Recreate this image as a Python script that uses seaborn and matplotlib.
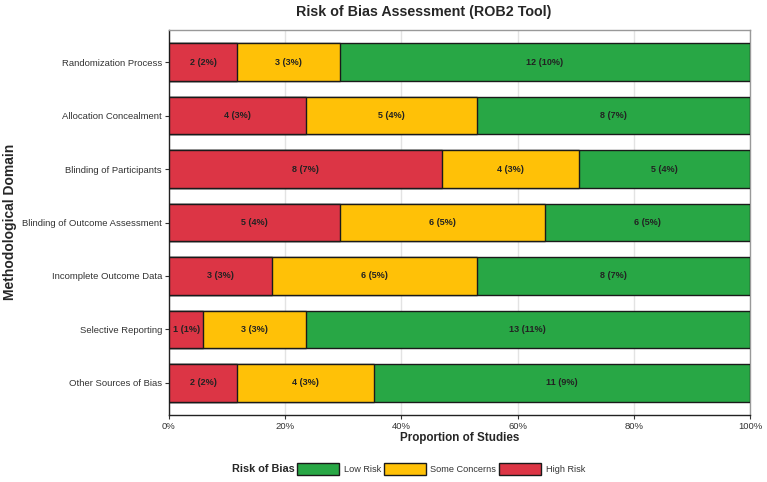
import pandas as pd
import matplotlib.pyplot as plt
import seaborn as sns
from matplotlib.patches import Patch

# Dados: número de estudos por domínio e nível de risco
dominios = ['Randomization Process', 'Allocation Concealment', 'Blinding of Participants',
            'Blinding of Outcome Assessment', 'Incomplete Outcome Data',
            'Selective Reporting', 'Other Sources of Bias']
alto = [2, 4, 8, 5, 3, 1, 2]
algumas = [3, 5, 4, 6, 6, 3, 4]
baixo = [12, 8, 5, 6, 8, 13, 11]

cores = {'Low Risk': '#28A745', 'Some Concerns': '#FFC107', 'High Risk': '#DC3545'}

df = pd.DataFrame({'dominio': dominios, 'alto': alto, 'algumas': algumas, 'baixo': baixo})
df['total'] = df['alto'] + df['algumas'] + df['baixo']
total_geral = df['total'].sum()
df['p_alto'] = df['alto'] / df['total']
df['p_algumas'] = df['algumas'] / df['total']
df['p_baixo'] = df['baixo'] / df['total']
df['cum_alto'] = df['p_alto']
df['cum_algumas'] = df['p_alto'] + df['p_algumas']
df['cum_baixo'] = df['cum_algumas'] + df['p_baixo']

sns.set_style('white')
plt.rcParams['font.family'] = ['Liberation Sans', 'DejaVu Sans']

fig = plt.figure(figsize=(7.67, 4.82), dpi=100)
ax = fig.add_axes([169 / 767, 1 - 415 / 482, (750 - 169) / 767, (415 - 30) / 482])

# Barras empilhadas: desenha os acumulados do maior para o menor
for col, nome in [('cum_baixo', 'Low Risk'), ('cum_algumas', 'Some Concerns'), ('cum_alto', 'High Risk')]:
    sns.barplot(data=df, x=col, y='dominio', order=dominios, orient='h', color=cores[nome],
                saturation=1, width=0.7, edgecolor='#1a1a1a', linewidth=1, ax=ax, zorder=3)

# Rótulos dentro de cada segmento
for i, linha in df.iterrows():
    inicio = 0
    for n, p in [(linha['alto'], linha['p_alto']), (linha['algumas'], linha['p_algumas']),
                 (linha['baixo'], linha['p_baixo'])]:
        if n > 0:
            pct = round(100 * n / total_geral)
            ax.text(inicio + p / 2, i, f'{n} ({pct}%)', ha='center', va='center',
                    fontsize=6.5, fontweight='bold', color='#222222', zorder=4)
        inicio += p

ax.set_xlim(0, 1)
ax.set_ylim(6.6, -0.6)
ax.set_xticks([0, 0.2, 0.4, 0.6, 0.8, 1.0])
ax.set_xticklabels(['0%', '20%', '40%', '60%', '80%', '100%'])
ax.grid(axis='x', color='#e3e3e3', linewidth=1, zorder=0)
ax.set_axisbelow(True)
ax.tick_params(axis='both', labelsize=6.8, colors='#333333', length=3, width=0.8,
               left=True, bottom=True, pad=2)
for lado in ['top', 'right']:
    ax.spines[lado].set_color('#999999')
    ax.spines[lado].set_linewidth(1)
for lado in ['left', 'bottom']:
    ax.spines[lado].set_color('#222222')
    ax.spines[lado].set_linewidth(1)

ax.set_xlabel('Proportion of Studies', fontsize=8.4, fontweight='bold', labelpad=1)
ax.set_ylabel('')
fig.text(10 / 767, 1 - 222 / 482, 'Methodological Domain', rotation=90, ha='center', va='center',
         fontsize=10, fontweight='bold')
fig.text(424 / 767, 1 - 12 / 482, 'Risk of Bias Assessment (ROB2 Tool)', ha='center', va='center',
         fontsize=10.3, fontweight='bold')

# Legenda na parte inferior
alcas = [Patch(facecolor=cores[k], edgecolor='#1a1a1a', linewidth=1) for k in ['Low Risk', 'Some Concerns', 'High Risk']]
fig.legend(alcas, ['Low Risk', 'Some Concerns', 'High Risk'], loc='center',
           bbox_to_anchor=(441 / 767, 1 - 469 / 482), ncol=3, frameon=False, fontsize=6.6,
           handlelength=4.6, handleheight=1.8, handletextpad=0.5, columnspacing=0.3,
           labelcolor='#333333')
fig.text(295 / 767, 1 - 469 / 482, 'Risk of Bias', ha='right', va='center',
         fontsize=7.8, fontweight='bold')

fig.savefig('out.png', dpi=100)
